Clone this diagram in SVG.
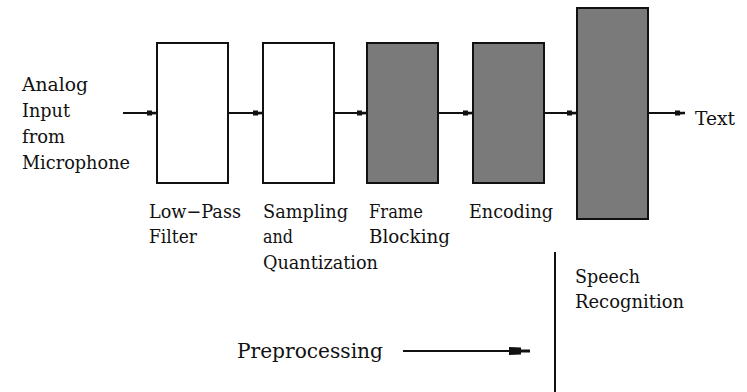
<svg xmlns="http://www.w3.org/2000/svg" width="747" height="392" viewBox="0 0 747 392">
  <style>
    text { font-family: "DejaVu Serif", "Liberation Serif", serif; font-size: 19px; fill: #111; }
    .big { font-size: 21px; }
    .box { stroke: #111; stroke-width: 2; }
    .open { fill: #ffffff; }
    .shade { fill: #7a7a7a; }
    .wire { stroke: #111; stroke-width: 2; fill: none; }
  </style>
  <defs>
    <!-- small tabbed arrowhead; tip sits at the line end -->
    <marker id="tab" markerUnits="userSpaceOnUse" markerWidth="12" markerHeight="8" viewBox="-11 -4 12 8" refX="0" refY="0" orient="auto">
      <path d="M-10,-2.5 L-5,-2.5 L-5,-1.2 L0,-1.2 L0,1.2 L-5,1.4 L-5,2.5 L-10,2.5 Z" fill="#111"/>
    </marker>
  </defs>

  <rect width="747" height="392" fill="#ffffff"/>

  <!-- signal path between stages -->
  <g id="connectors">
    <line class="wire" x1="123" y1="113" x2="157" y2="113" marker-end="url(#tab)"/>
    <line class="wire" x1="228" y1="113" x2="263" y2="113" marker-end="url(#tab)"/>
    <line class="wire" x1="334" y1="113" x2="367" y2="113" marker-end="url(#tab)"/>
    <line class="wire" x1="438" y1="113" x2="473" y2="113" marker-end="url(#tab)"/>
    <line class="wire" x1="544" y1="113" x2="577" y2="113" marker-end="url(#tab)"/>
    <line class="wire" x1="648" y1="113" x2="685" y2="113" marker-end="url(#tab)"/>
  </g>

  <g id="input">
    <text x="22" y="91" textLength="66" lengthAdjust="spacingAndGlyphs">Analog</text>
    <text x="22" y="117" textLength="48" lengthAdjust="spacingAndGlyphs">Input</text>
    <text x="22" y="143" textLength="43" lengthAdjust="spacingAndGlyphs">from</text>
    <text x="22" y="169" textLength="108" lengthAdjust="spacingAndGlyphs">Microphone</text>
  </g>

  <g id="lowpass">
    <rect class="box open" x="157" y="43" width="71" height="140"/>
    <text x="149" y="218" textLength="92" lengthAdjust="spacingAndGlyphs">Low−Pass</text>
    <text x="149" y="243" textLength="48" lengthAdjust="spacingAndGlyphs">Filter</text>
  </g>

  <g id="sampling">
    <rect class="box open" x="263" y="43" width="71" height="140"/>
    <text x="263" y="218" textLength="85" lengthAdjust="spacingAndGlyphs">Sampling</text>
    <text x="263" y="243" textLength="30" lengthAdjust="spacingAndGlyphs">and</text>
    <text x="263" y="269" textLength="115" lengthAdjust="spacingAndGlyphs">Quantization</text>
  </g>

  <g id="framing">
    <rect class="box shade" x="367" y="43" width="71" height="140"/>
    <text x="369" y="218" textLength="54" lengthAdjust="spacingAndGlyphs">Frame</text>
    <text x="369" y="243" textLength="81" lengthAdjust="spacingAndGlyphs">Blocking</text>
  </g>

  <g id="encoding">
    <rect class="box shade" x="473" y="43" width="71" height="140"/>
    <text x="469" y="218" textLength="84" lengthAdjust="spacingAndGlyphs">Encoding</text>
  </g>

  <g id="recognizer">
    <rect class="box shade" x="577" y="8" width="71" height="211"/>
  </g>

  <g id="output">
    <text x="695" y="125" textLength="40" lengthAdjust="spacingAndGlyphs">Text</text>
  </g>

  <!-- stage split: preprocessing on the left, recognition on the right -->
  <g id="stages">
    <line class="wire" x1="555" y1="252" x2="555" y2="392"/>
    <text x="575" y="283" textLength="65" lengthAdjust="spacingAndGlyphs">Speech</text>
    <text x="575" y="308" textLength="109" lengthAdjust="spacingAndGlyphs">Recognition</text>
    <text class="big" x="237" y="358" textLength="146" lengthAdjust="spacingAndGlyphs">Preprocessing</text>
    <line class="wire" x1="403" y1="351" x2="512" y2="351"/>
    <path d="M509,347 L521,347.6 L521,349.4 L530,349.6 L530,352.4 L521,352.6 L521,354.4 L509,355 Z" fill="#111"/>
  </g>
</svg>
